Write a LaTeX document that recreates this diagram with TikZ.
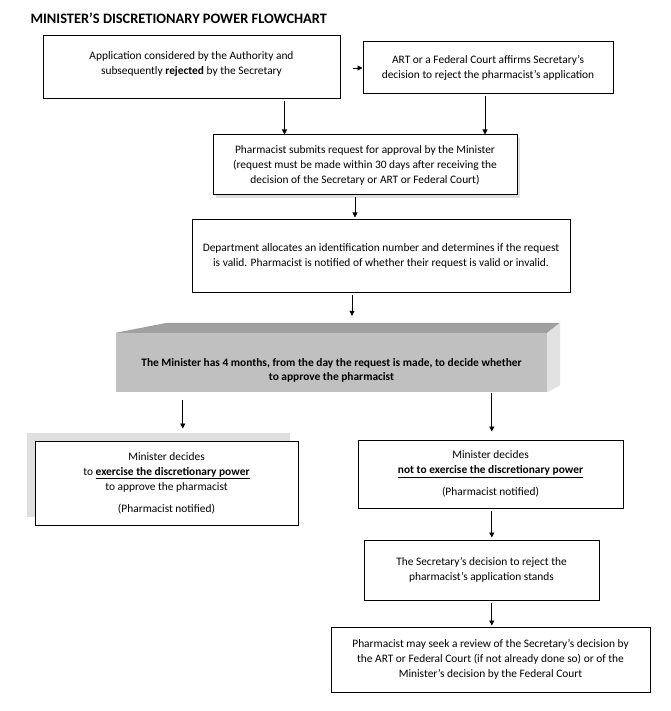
\documentclass[tikz,border=0pt]{standalone}
\usepackage{fontspec}
\setmainfont{Carlito}
\usepackage{xcolor}
\usetikzlibrary{arrows.meta, positioning, calc, shadows}
\definecolor{boxgrey}{HTML}{C0C0C0}
\definecolor{topgrey}{HTML}{A0A0A0}
\definecolor{sidegrey}{HTML}{E2E2E2}
\tikzstyle{arrow} = [line width=0.8pt,-{Triangle[length=5pt,width=5pt]}]
\tikzstyle{stage} = [draw, line width=1pt, rectangle, align=center, inner sep=2pt, fill=white, font=\fontsize{11.4}{15}\selectfont]

\begin{document}
\begin{tikzpicture}[x=1pt, y=-1pt]
    \useasboundingbox (0,0) rectangle (670,711);
    \node[anchor=west, font=\fontsize{14.4}{16}\selectfont\bfseries] (title) at (27,18) {MINISTER’S DISCRETIONARY POWER FLOWCHART};
    \node[stage, minimum width=297pt, minimum height=63pt] (rejected) at (191.5,67.5) {Application considered by the Authority and\\ subsequently \textbf{rejected} by the Secretary\\[-7pt] \mbox{}};
    \node[stage, minimum width=250pt, minimum height=52pt] (affirms) at (488,68) {ART or a Federal Court affirms Secretary’s\\ decision to reject the pharmacist’s application};
    \node[stage, minimum width=304pt, minimum height=60pt, drop shadow={shadow xshift=3pt, shadow yshift=-3pt, fill=black!25}] (request) at (365,165) {Pharmacist submits request for approval by the Minister\\ (request must be made within 30 days after receiving the\\ decision of the Secretary or ART or Federal Court)};
    \node[stage, minimum width=378pt, minimum height=72pt] (valid) at (381,256) {Department allocates an identification number and determines if the request\\ is valid. Pharmacist is notified of whether their request is valid or invalid.};
    % raised block for the four month period
    \node[fill=boxgrey, minimum width=431pt, minimum height=59pt, align=center, inner sep=0pt, font=\fontsize{11.4}{14}\selectfont\bfseries] (months) at (331.5,362.5) {\mbox{}\\[10pt]The Minister has 4 months, from the day the request is made, to decide whether\\ to approve the pharmacist};
    \fill[topgrey] (months.north west) -- ($(months.north west)+(51,-10)$) -- ($(months.north east)+(13,-10)$) -- (months.north east) -- cycle;
    \fill[sidegrey] (months.north east) -- ($(months.north east)+(13,-10)$) -- ($(months.south east)+(13,-7)$) -- (months.south east) -- cycle;
    \coordinate (monthstop) at ($(months.north west)+(236,-10)$);
    \node[stage, minimum width=263pt, minimum height=84pt, drop shadow={shadow xshift=-8pt, shadow yshift=8pt, fill=boxgrey}] (exercise) at (166.5,483) {Minister decides\\ to \underline{\textbf{exercise the discretionary power}}\\ to approve the pharmacist\\[7pt] (Pharmacist notified)};
    \node[stage, minimum width=265pt, minimum height=68pt] (notexercise) at (490.5,474) {Minister decides\\ \underline{\textbf{not to exercise the discretionary power}}\\[7pt] (Pharmacist notified)};
    \node[stage, minimum width=235pt, minimum height=60pt] (stands) at (481.5,570) {The Secretary’s decision to reject the\\ pharmacist’s application stands};
    \node[stage, minimum width=319pt, minimum height=65pt] (review) at (490.5,659.5) {Pharmacist may seek a review of the Secretary’s decision by\\ the ART or Federal Court (if not already done so) or of the\\ Minister’s decision by the Federal Court};
    % connectors
    \coordinate (a1) at ($(rejected.south west)+(242,0)$);
    \coordinate (a2) at ($(affirms.south)+(-3,0)$);
    \coordinate (a3) at ($(request.south)+(-10,0)$);
    \coordinate (a4) at ($(valid.south)+(-29,0)$);
    \coordinate (a5) at ($(months.south west)+(67,0)$);
    \coordinate (a6) at ($(months.south west)+(376,0)$);
    \draw[arrow, shorten <=12pt] (rejected.east |- affirms.west) -- (affirms.west);
    \draw[arrow, shorten <=2pt] (a1) -- (a1 |- request.north);
    \draw[arrow, shorten <=2pt] (a2) -- (a2 |- request.north);
    \draw[arrow, shorten <=2pt, shorten >=2pt] (a3) -- (a3 |- valid.north);
    \draw[arrow, shorten <=2pt, shorten >=7pt] (a4) -- (a4 |- monthstop);
    \draw[arrow, shorten <=8pt, shorten >=12pt] (a5) -- (a5 |- exercise.north);
    \draw[arrow, shorten <=1pt, shorten >=8pt] (a6) -- (a6 |- notexercise.north);
    \draw[arrow, shorten <=2pt, shorten >=2pt] (a6 |- notexercise.south) -- (a6 |- stands.north);
    \draw[arrow, shorten <=2pt, shorten >=1pt] (a6 |- stands.south) -- (a6 |- review.north);
\end{tikzpicture}
\end{document}
